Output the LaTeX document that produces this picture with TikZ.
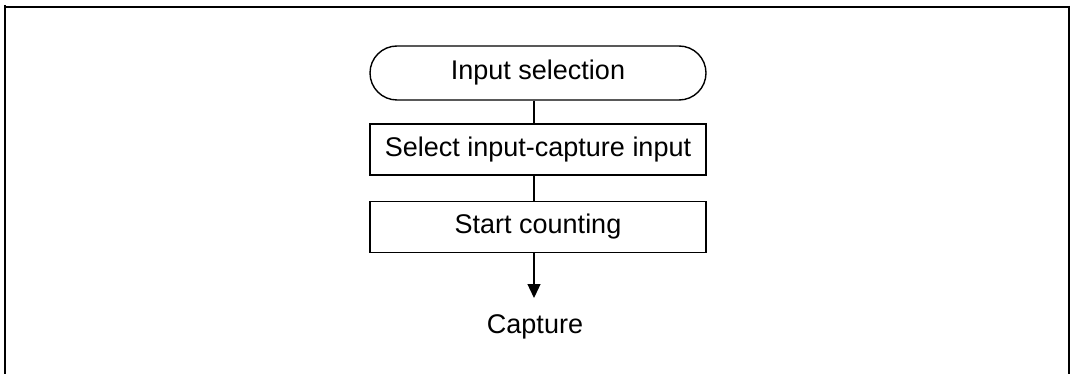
\documentclass[tikz,border=0pt]{standalone}
\usepackage{fontspec}
\setmainfont{Liberation Sans}
\usetikzlibrary{arrows.meta}
\begin{document}
\begin{tikzpicture}[x=1pt,y=-1pt,
  txt/.style={font=\fontsize{27}{32}\selectfont},
  term/.style={draw,line width=1.4pt,rounded corners=27pt,minimum width=336pt,minimum height=54pt,inner sep=0pt,txt},
  procbox/.style={draw,line width=1.4pt,minimum width=336pt,minimum height=51pt,inner sep=0pt,txt},
  conn/.style={line width=1.3pt},
  frame/.style={line width=2pt}]
\useasboundingbox (0,0) rectangle (1070,374);
\draw[frame] (5,5) -- (5,374);
\draw[frame] (4,7) -- (1069,7);
\draw[frame] (1069,6) -- (1069,374);
\node[term] (t) at (538,73) {Input selection};
\node[procbox] (b1) at (538,149.5) {Select input-capture input};
\node[procbox] (b2) at (538,227) {Start counting};
\node[txt] (cap) at (535,327) {Capture};
\coordinate (spine) at (534,0);
\coordinate (tip) at (534,298);
\draw[conn] (t.south -| spine) -- (b1.north -| spine);
\draw[conn] (b1.south -| spine) -- (b2.north -| spine);
\draw[conn,-{Triangle[length=14pt,width=13pt]}] (b2.south -| spine) -- (tip);
\end{tikzpicture}
\end{document}
